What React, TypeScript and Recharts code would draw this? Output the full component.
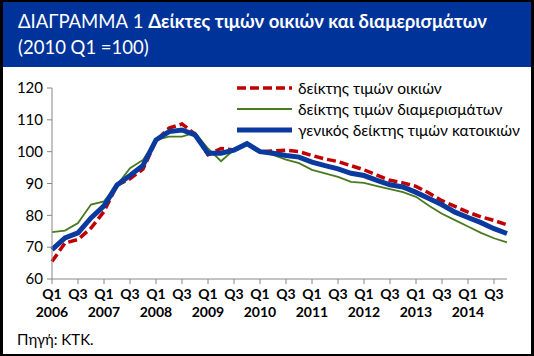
import { Legend, Line, LineChart, XAxis, YAxis } from "recharts";

const years = ["2006", "2007", "2008", "2009", "2010", "2011", "2012", "2013", "2014"];
const quarters = ["Q1", "Q2", "Q3", "Q4"];

// δείκτης τιμών οικιών
const houses = [
  65.5, 71.3, 72.4, 76, 81.2, 89.5, 91.5, 94.5, 103.5, 107.4, 108.7, 105.5,
  99, 101, 100.5, 102.5, 100, 100.2, 100.5, 100, 98.8, 97.7, 96.9, 95.6,
  94.3, 92.6, 91, 90.2, 89.1, 87, 84.6, 82.8, 81, 79.5, 78.4, 77,
];
// δείκτης τιμών διαμερισμάτων
const apartments = [
  74.7, 75.2, 77.6, 83.4, 84.4, 89.5, 94.8, 97.4, 103.7, 104.7, 104.7, 106,
  101, 97, 100.6, 102.5, 100, 99, 97.5, 96.4, 94.3, 93.2, 92.1, 90.5,
  90.2, 89.2, 88.2, 87.3, 85.8, 83, 80.5, 78.5, 76.5, 74.5, 72.8, 71.5,
];
// γενικός δείκτης τιμών κατοικιών
const general = [
  69.2, 72.9, 74.5, 79.2, 83, 89.5, 92.5, 95.7, 103.7, 106.3, 106.8, 105.3,
  99.5, 99.5, 100.5, 102.5, 100, 99.5, 98.8, 98.3, 96.7, 95.6, 94.6, 93.2,
  92.5, 91, 89.6, 88.9, 87.2, 85.3, 83.3, 81, 79.3, 77.7, 75.8, 74.3,
];
const yTicks = [60, 70, 80, 90, 100, 110, 120];

const data = years.flatMap((year, yi) =>
  quarters.map((q, qi) => {
    const i = yi * 4 + qi;
    return { label: `${year} ${q}`, houses: houses[i], apartments: apartments[i], general: general[i] };
  })
);

const font = "Lato, 'Noto Sans', sans-serif";

const series = {
  houses: { name: "δείκτης τιμών οικιών", color: "#C00000", width: 3.5, dash: "9 4" },
  apartments: { name: "δείκτης τιμών διαμερισμάτων", color: "#4A7A1E", width: 1.8, dash: undefined },
  general: { name: "γενικός δείκτης τιμών κατοικιών", color: "#0A3A9E", width: 5, dash: undefined },
};
const legendOrder = ["houses", "apartments", "general"] as const;

function QuarterTick({ x, y, payload }: any) {
  const [year, q] = String(payload.value).split(" ");
  return (
    <g fontFamily={font} fontWeight="bold" fontSize={14} fill="#000">
      <text x={x} y={y + 15} textAnchor="middle">{q}</text>
      {q === "Q1" && <text x={x} y={y + 33} textAnchor="middle">{year}</text>}
    </g>
  );
}

function LegendBox() {
  return (
    <div style={{ fontFamily: font, fontSize: 15.5, color: "#000" }}>
      {legendOrder.map((key) => {
        const s = series[key];
        return (
          <div key={key} style={{ display: "flex", alignItems: "center", height: 21 }}>
            <svg width={58} height={10} style={{ marginRight: 4 }}>
              <line x1={1} y1={5} x2={56} y2={5} stroke={s.color} strokeWidth={s.width} strokeDasharray={s.dash} />
            </svg>
            <span>{s.name}</span>
          </div>
        );
      })}
    </div>
  );
}

export default function App() {
  return (
    <div style={{ position: "relative", width: 534, height: 356, background: "#000", fontFamily: font }}>
      <style>{"body{margin:0}"}</style>
      <div style={{ position: "absolute", left: 3, top: 2, width: 528, height: 352, background: "#fff" }} />
      <div style={{ position: "absolute", left: 3, top: 2, width: 528, height: 65, background: "#003399" }} />
      <div style={{ position: "absolute", left: 18, top: 8, color: "#fff", fontSize: 18.5, lineHeight: "26px", whiteSpace: "nowrap" }}>
        <div>
          ΔΙΑΓΡΑΜΜΑ 1 <b>Δείκτες τιμών οικιών και διαμερισμάτων</b>
        </div>
        <div>(2010 Q1 =100)</div>
      </div>
      <div style={{ position: "absolute", left: 17, top: 330, fontSize: 15, color: "#000" }}>Πηγή: ΚΤΚ.</div>
      <div style={{ position: "absolute", left: 0, top: 0 }}>
        <LineChart width={534} height={356} data={data} margin={{ top: 88, right: 27, bottom: 27, left: 12 }}>
          <XAxis
            dataKey="label"
            interval={1}
            height={50}
            stroke="#868686"
            tickSize={5}
            tickMargin={0}
            tick={<QuarterTick />}
          />
          <YAxis
            domain={[60, 120]}
            ticks={yTicks}
            width={40}
            stroke="#868686"
            tickSize={5}
            tickMargin={4}
            tick={{ fill: "#000", fontSize: 15, fontFamily: font }}
          />
          <Legend
            layout="vertical"
            align="center"
            verticalAlign="middle"
            wrapperStyle={{ left: 236, top: 77, width: 295 }}
            content={<LegendBox />}
          />
          <Line dataKey="houses" name={series.houses.name} stroke={series.houses.color} strokeWidth={series.houses.width} strokeDasharray={series.houses.dash} dot={false} isAnimationActive={false} />
          <Line dataKey="apartments" name={series.apartments.name} stroke={series.apartments.color} strokeWidth={series.apartments.width} dot={false} isAnimationActive={false} />
          <Line dataKey="general" name={series.general.name} stroke={series.general.color} strokeWidth={series.general.width} dot={false} isAnimationActive={false} />
        </LineChart>
      </div>
    </div>
  );
}
